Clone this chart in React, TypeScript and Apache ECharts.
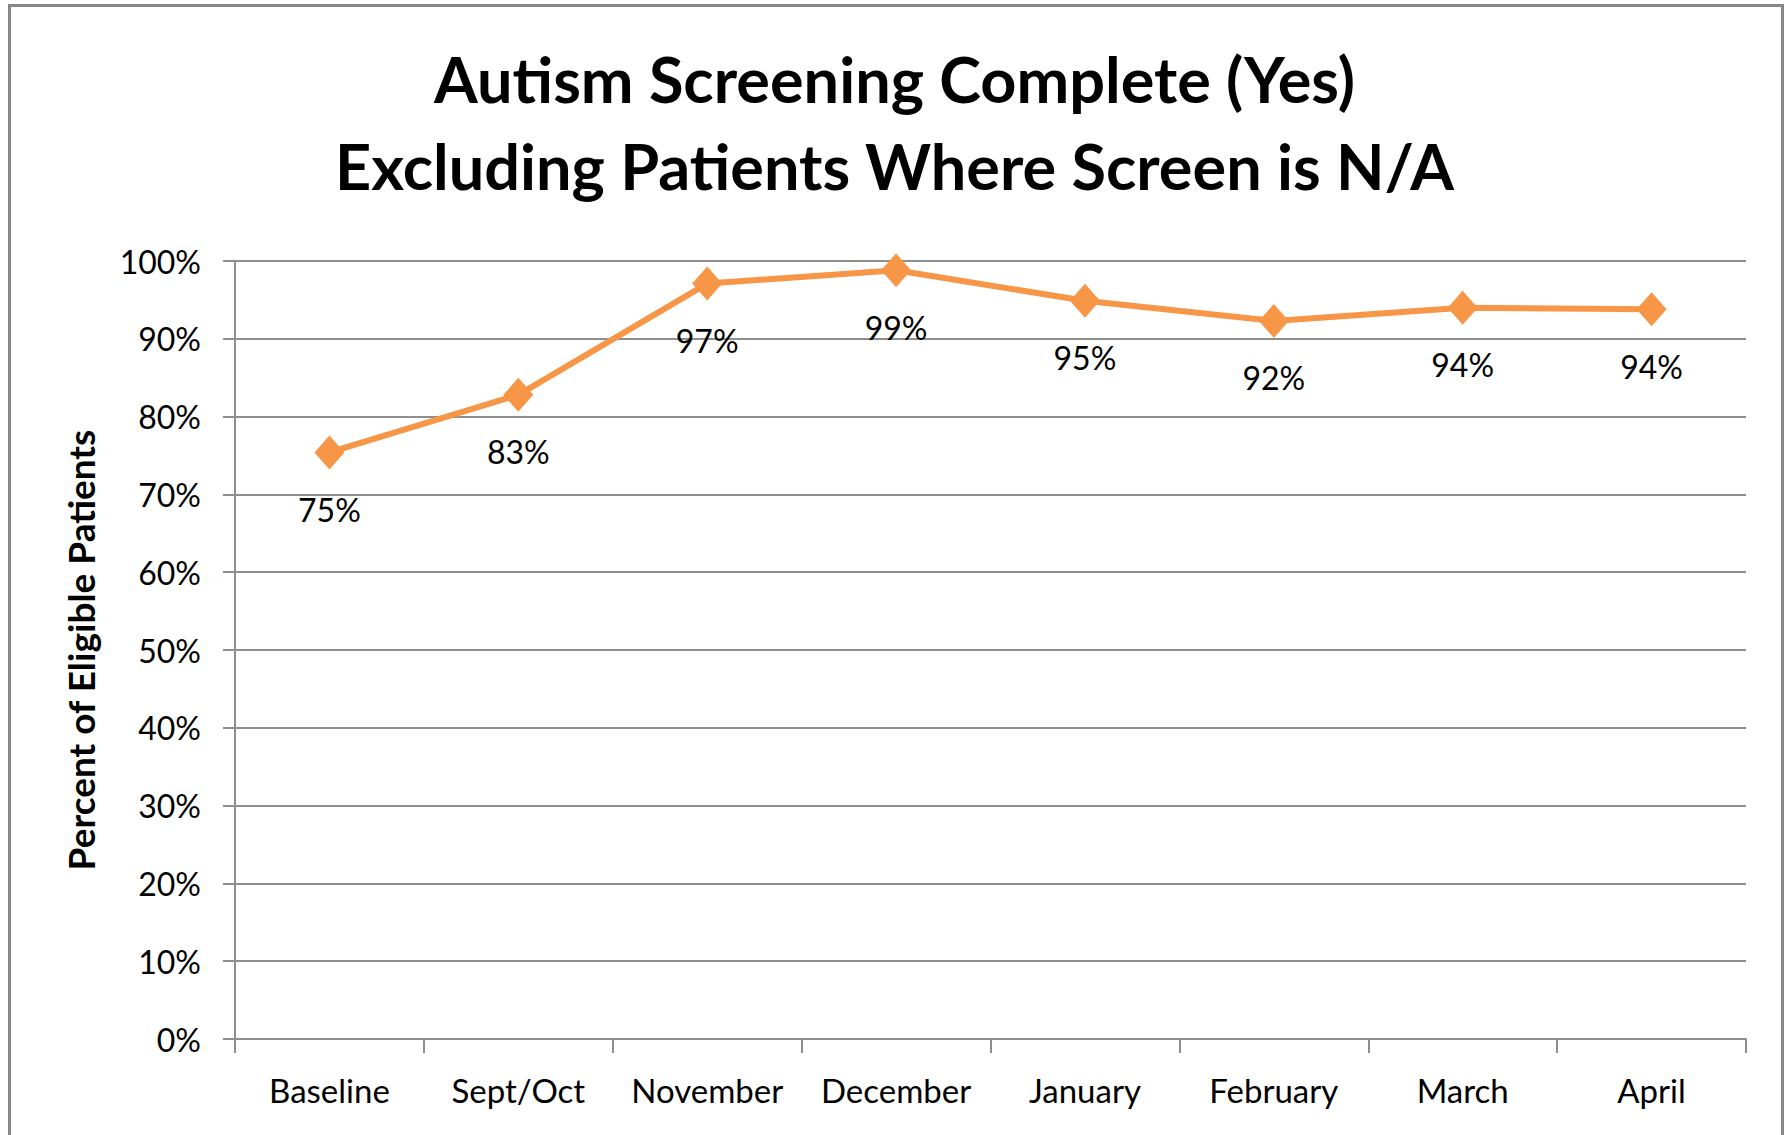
import React, { useEffect, useRef } from "react";
import * as echarts from "echarts";

const titleLines = ["Autism Screening Complete (Yes)", "Excluding Patients Where Screen is N/A"];
const yAxisName = "Percent of Eligible Patients";
const categories = ["Baseline", "Sept/Oct", "November", "December", "January", "February", "March", "April"];
const screeningPct = [75.4, 82.8, 97.1, 98.8, 94.9, 92.3, 94.0, 93.8];
const yTicks = { min: 0, max: 100, interval: 10 };

const FONT = "Lato, 'Open Sans', sans-serif";
const GRAY = "#8e8e8e";

export default function App() {
  const ref = useRef<HTMLDivElement>(null);
  useEffect(() => {
    if (!ref.current) return;
    const chart = echarts.init(ref.current, null, { renderer: "svg" });
    chart.setOption({
      animation: false,
      backgroundColor: "#ffffff",
      title: {
        text: titleLines.join("\n"),
        left: "center",
        top: 30,
        textStyle: {
          fontFamily: FONT,
          fontWeight: "bold",
          fontSize: 63,
          lineHeight: 87,
          color: "#000",
        },
      },
      graphic: [
        {
          type: "rect",
          shape: { x: 9.5, y: 5.5, width: 1773, height: 1200 },
          style: { fill: "none", stroke: "#878787", lineWidth: 3 },
          silent: true,
          z: 100,
        },
      ],
      grid: { left: 235, right: 43, top: 261, bottom: 96 },
      xAxis: {
        type: "category",
        data: categories,
        boundaryGap: true,
        axisLine: { show: true, lineStyle: { color: GRAY, width: 2 } },
        axisTick: { show: true, interval: 0, length: 14, lineStyle: { color: GRAY, width: 2 } },
        axisLabel: {
          interval: 0,
          margin: 34,
          fontFamily: FONT,
          fontSize: 33,
          color: "#000",
        },
        splitLine: { show: false },
      },
      yAxis: {
        type: "value",
        min: yTicks.min,
        max: yTicks.max,
        interval: yTicks.interval,
        name: yAxisName,
        nameLocation: "middle",
        nameRotate: 90,
        nameGap: 136,
        nameTextStyle: {
          fontFamily: FONT,
          fontWeight: "bold",
          fontSize: 37,
          color: "#000",
        },
        axisLine: { show: true, lineStyle: { color: GRAY, width: 2 } },
        axisTick: { show: true, length: 12, lineStyle: { color: GRAY, width: 2 } },
        axisLabel: {
          margin: 34,
          formatter: "{value}%",
          fontFamily: FONT,
          fontSize: 32,
          color: "#000",
        },
        splitLine: { show: true, lineStyle: { color: GRAY, width: 2 } },
      },
      series: [
        {
          type: "line",
          data: screeningPct,
          symbol: "diamond",
          symbolSize: [30, 34],
          lineStyle: { color: "#F79646", width: 6 },
          itemStyle: { color: "#F79646" },
          label: {
            show: true,
            position: "bottom",
            distance: 24,
            formatter: (p: any) => Math.round(p.value) + "%",
            fontFamily: FONT,
            fontSize: 32,
            color: "#000",
          },
          z: 5,
        },
      ],
    });
    return () => chart.dispose();
  }, []);
  return (
    <div
      ref={ref}
      style={{ position: "fixed", left: 0, top: 0, width: 1789, height: 1135 }}
    />
  );
}
